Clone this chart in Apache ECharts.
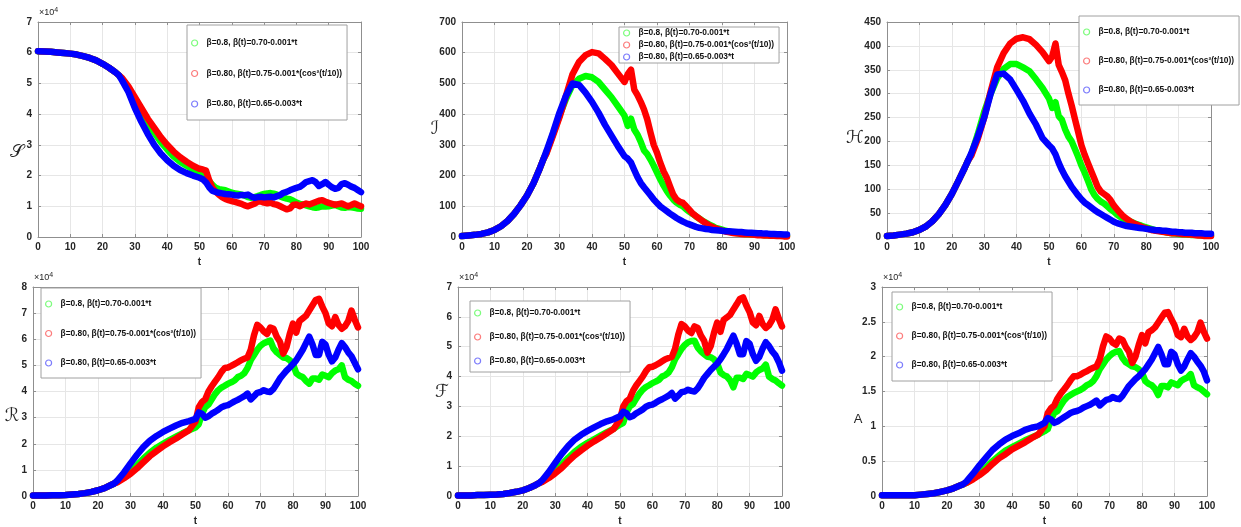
<!DOCTYPE html>
<html>
<head>
<meta charset="utf-8">
<script src="https://cdn.jsdelivr.net/npm/echarts@6/dist/echarts.min.js"></script>
<style>
html, body { margin: 0; padding: 0; background: #fff; }
#main { width: 1241px; height: 527px; }
</style>
</head>
<body>
<div id="main"></div>
<script>
// time points (dense after t=50 where the paths get noisy)
var T = [0, 2, 4, 6, 8, 10, 12, 14, 16, 18, 20, 22, 24, 25,
    26, 28, 30, 32, 34, 36, 38, 40, 42, 44, 46, 48,
    50, 51, 52, 53, 54, 55, 56, 57, 58, 59,
    60, 61, 62, 63, 64, 65, 66, 67, 68, 69,
    70, 71, 72, 73, 74, 75, 76, 77, 78, 79,
    80, 81, 82, 83, 84, 85, 86, 87, 88, 89,
    90, 91, 92, 93, 94, 95, 96, 97, 98, 99, 100];

var NAMES = ['β=0.8, β(t)=0.70-0.001*t', 'β=0.80, β(t)=0.75-0.001*(cos²(t/10))', 'β=0.80, β(t)=0.65-0.003*t'];
var COLORS = ['#00ff00', '#ff0000', '#0000ff'];
var ICON_COLORS = ['#7dfc7d', '#fc7d7d', '#7d7dfc'];

// S (x10^4)
var S_green = [6.05, 6.04, 6.03, 6.01, 5.99, 5.97, 5.94, 5.89, 5.83, 5.75, 5.64, 5.51, 5.36, 5.27,
    5.15, 4.85, 4.45, 4.05, 3.7, 3.4, 3.1, 2.85, 2.62, 2.45, 2.32, 2.2,
    2.12, 2.02, 1.92, 1.82, 1.7, 1.6, 1.56, 1.54, 1.52, 1.48,
    1.44, 1.42, 1.4, 1.38, 1.35, 1.3, 1.28, 1.3, 1.33, 1.37,
    1.4, 1.42, 1.43, 1.41, 1.38, 1.32, 1.28, 1.25, 1.23, 1.18,
    1.12, 1.08, 1.06, 1.03, 1.0, 0.97, 0.95, 0.97, 1.0, 0.99,
    1.0, 1.02, 1.05, 1.0, 0.96, 0.95, 0.98, 0.97, 0.95, 0.93, 0.92];
var S_red = [6.05, 6.04, 6.03, 6.01, 5.99, 5.97, 5.94, 5.89, 5.83, 5.75, 5.64, 5.51, 5.36, 5.27,
    5.18, 4.9, 4.55, 4.2, 3.85, 3.55, 3.25, 3.0, 2.78, 2.6, 2.45, 2.32,
    2.22, 2.2, 2.16, 1.85, 1.6, 1.48, 1.38, 1.3, 1.24, 1.2,
    1.17, 1.14, 1.11, 1.08, 1.03, 1.0, 1.04, 1.08, 1.15, 1.16,
    1.12, 1.1, 1.12, 1.07, 1.05, 1.0, 0.95, 0.9, 0.93, 1.04,
    1.06, 1.0, 1.05, 1.09, 1.06, 1.1, 1.14, 1.18, 1.2, 1.15,
    1.11, 1.08, 1.05, 1.07, 1.09, 1.04, 1.0, 1.04, 1.09, 1.04, 1.0];
var S_blue = [6.05, 6.04, 6.03, 6.01, 5.99, 5.97, 5.94, 5.89, 5.83, 5.75, 5.64, 5.51, 5.36, 5.27,
    5.1, 4.72, 4.2, 3.75, 3.35, 3.0, 2.72, 2.5, 2.32, 2.18, 2.08, 2.0,
    1.93, 1.88, 1.78, 1.62, 1.5, 1.47, 1.44, 1.42, 1.4, 1.39,
    1.38, 1.36, 1.35, 1.37, 1.36, 1.38, 1.32, 1.28, 1.3, 1.31,
    1.29, 1.3, 1.31, 1.29, 1.33, 1.37, 1.44, 1.47, 1.52, 1.56,
    1.6, 1.63, 1.7, 1.79, 1.82, 1.85, 1.78, 1.66, 1.72, 1.79,
    1.7, 1.62, 1.57, 1.6, 1.72, 1.75, 1.7, 1.64, 1.6, 1.53, 1.46];

// I
var I_green = [3, 5, 7, 10, 15, 23, 35, 52, 75, 103, 135, 175, 225, 252,
    275, 335, 395, 450, 495, 515, 524, 520, 505, 480, 455, 425,
    395, 362, 385, 350, 333, 310, 282, 270, 252, 232,
    210, 188, 168, 150, 135, 122, 112, 105, 100, 90,
    82, 75, 67, 60, 53, 47, 41, 36, 30, 27,
    24, 21, 18, 16, 14, 12, 11, 10, 9, 8,
    8, 7, 7, 6, 6, 5, 5, 5, 4, 4, 4];
var I_red = [3, 5, 7, 10, 15, 23, 35, 52, 75, 103, 135, 175, 225, 252,
    272, 330, 390, 460, 530, 570, 592, 602, 598, 580, 560, 532,
    505, 530, 545, 480, 462, 440, 415, 383, 340, 300,
    274, 242, 214, 193, 165, 138, 122, 115, 111, 100,
    88, 76, 68, 60, 52, 45, 38, 33, 28, 24,
    21, 18, 16, 14, 12, 11, 10, 9, 9, 8,
    7, 6, 6, 5, 5, 4, 4, 3, 3, 2, 2];
var I_blue = [3, 5, 7, 10, 15, 23, 35, 52, 75, 103, 135, 175, 225, 252,
    280, 340, 405, 460, 500, 495, 470, 440, 405, 365, 330, 295,
    263, 255, 242, 218, 195, 176, 162, 149, 136, 122,
    111, 100, 92, 84, 76, 69, 62, 56, 50, 45,
    41, 37, 33, 30, 28, 26, 25, 23, 22, 21,
    20, 19, 19, 18, 17, 16, 16, 15, 14, 14,
    13, 12, 12, 11, 11, 10, 10, 9, 9, 8, 8];

// H
var H_green = [2, 3, 5, 7, 10, 15, 22, 33, 48, 67, 90, 117, 145, 160,
    172, 215, 262, 300, 332, 352, 362, 362, 355, 347, 330, 312,
    290, 270, 282, 253, 245, 225, 210, 200, 184, 168,
    150, 135, 118, 100, 88, 80, 74, 70, 64, 58,
    53, 47, 42, 38, 35, 33, 30, 27, 25, 22,
    20, 18, 16, 14, 13, 12, 10, 9, 8, 7,
    6, 6, 5, 5, 4, 4, 4, 3, 3, 3, 3];
var H_red = [2, 3, 5, 7, 10, 15, 22, 33, 48, 67, 90, 117, 145, 160,
    170, 205, 250, 305, 355, 385, 405, 415, 418, 414, 402, 387,
    368, 378, 405, 360, 345, 328, 300, 275, 247, 220,
    192, 172, 155, 138, 122, 105, 95, 90, 85, 77,
    66, 58, 50, 43, 38, 33, 29, 26, 23, 20,
    18, 16, 14, 13, 12, 11, 10, 9, 8, 8,
    7, 6, 6, 5, 5, 4, 3, 3, 2, 2, 2];
var H_blue = [2, 3, 5, 7, 10, 15, 22, 33, 48, 67, 90, 117, 145, 160,
    175, 210, 250, 300, 340, 342, 330, 308, 285, 258, 235, 207,
    192, 185, 173, 155, 140, 127, 116, 105, 96, 87,
    79, 72, 67, 62, 57, 52, 48, 44, 40, 36,
    32, 29, 27, 25, 23, 22, 21, 20, 19, 18,
    17, 16, 15, 14, 14, 13, 13, 12, 11, 11,
    10, 10, 9, 9, 9, 8, 8, 8, 7, 7, 7];

// R (x10^4)
var R_green = [0.02, 0.02, 0.02, 0.03, 0.03, 0.04, 0.06, 0.08, 0.11, 0.16, 0.22, 0.3, 0.42, 0.48,
    0.55, 0.72, 0.94, 1.18, 1.44, 1.66, 1.85, 2.0, 2.14, 2.27, 2.4, 2.52,
    2.62, 2.75, 3.15, 3.4, 3.5, 3.7, 3.9, 4.05, 4.15, 4.22,
    4.3, 4.35, 4.42, 4.55, 4.6, 4.7, 4.9, 5.2, 5.4, 5.6,
    5.75, 5.85, 5.9, 5.95, 5.65, 5.5, 5.4, 5.3, 5.28, 5.2,
    5.05, 4.7, 4.6, 4.55, 4.4, 4.3, 4.5, 4.5, 4.45, 4.65,
    4.6, 4.55, 4.7, 4.8, 4.85, 5.0, 4.55, 4.45, 4.4, 4.3, 4.22];
var R_red = [0.02, 0.02, 0.02, 0.03, 0.03, 0.04, 0.06, 0.08, 0.11, 0.16, 0.22, 0.3, 0.42, 0.48,
    0.53, 0.68, 0.85, 1.06, 1.3, 1.53, 1.72, 1.9, 2.06, 2.2, 2.36, 2.52,
    2.85, 3.4, 3.6, 3.7, 4.0, 4.2, 4.38, 4.55, 4.75, 4.9,
    4.92, 4.98, 5.05, 5.12, 5.2, 5.25, 5.3, 5.6, 6.15, 6.55,
    6.45, 6.3, 6.2, 6.45, 6.4, 6.1, 5.9, 5.45, 5.7, 6.2,
    6.6, 6.25, 6.7, 6.8, 6.9, 7.1, 7.3, 7.5, 7.55, 7.25,
    7.0, 6.6, 6.5, 6.85, 6.55, 6.4, 6.5, 6.7, 7.1, 6.75, 6.45];
var R_blue = [0.02, 0.02, 0.02, 0.03, 0.03, 0.04, 0.06, 0.08, 0.11, 0.16, 0.22, 0.3, 0.42, 0.48,
    0.6, 0.9, 1.25, 1.58, 1.88, 2.12, 2.3, 2.45, 2.58, 2.7, 2.8, 2.87,
    2.95, 3.2, 3.15, 3.0, 3.05, 3.15, 3.22, 3.3, 3.4, 3.45,
    3.48, 3.55, 3.62, 3.68, 3.75, 3.82, 3.92, 3.7, 3.82, 3.95,
    3.98, 4.05, 4.0, 3.98, 4.1, 4.3, 4.5, 4.65, 4.8, 4.92,
    5.05, 5.2, 5.4, 5.6, 5.85, 6.1, 5.8, 5.4, 5.4, 5.9,
    5.8, 5.4, 5.15, 5.3, 5.6, 5.85, 5.7, 5.5, 5.35, 5.1, 4.85];

// F (x10^4)
var F_green = [0.02, 0.02, 0.02, 0.03, 0.03, 0.04, 0.05, 0.07, 0.1, 0.14, 0.19, 0.27, 0.37, 0.43,
    0.49, 0.64, 0.84, 1.05, 1.28, 1.48, 1.65, 1.78, 1.9, 2.02, 2.14, 2.25,
    2.39, 2.45, 2.8, 3.0, 3.08, 3.26, 3.43, 3.56, 3.65, 3.71,
    3.78, 3.83, 3.89, 4.0, 4.05, 4.14, 4.31, 4.58, 4.75, 4.93,
    5.06, 5.15, 5.19, 5.2, 4.97, 4.84, 4.75, 4.66, 4.65, 4.58,
    4.44, 4.14, 4.05, 4.0, 3.87, 3.64, 3.96, 3.96, 3.92, 4.09,
    4.05, 4.0, 4.14, 4.22, 4.27, 4.4, 4.0, 3.92, 3.87, 3.78, 3.7];
var F_red = [0.02, 0.02, 0.02, 0.03, 0.03, 0.04, 0.05, 0.07, 0.1, 0.14, 0.19, 0.27, 0.37, 0.43,
    0.47, 0.6, 0.76, 0.94, 1.16, 1.36, 1.53, 1.69, 1.83, 1.96, 2.1, 2.24,
    2.56, 3.0, 3.17, 3.26, 3.52, 3.7, 3.85, 4.0, 4.18, 4.31,
    4.33, 4.38, 4.44, 4.51, 4.58, 4.62, 4.66, 4.93, 5.41, 5.76,
    5.68, 5.54, 5.46, 5.68, 5.63, 5.37, 5.19, 4.8, 5.02, 5.46,
    5.81, 5.5, 5.9, 5.98, 6.07, 6.25, 6.42, 6.6, 6.65, 6.38,
    6.16, 5.81, 5.72, 6.03, 5.76, 5.63, 5.72, 5.9, 6.25, 5.94, 5.68];
var F_blue = [0.02, 0.02, 0.02, 0.03, 0.03, 0.04, 0.05, 0.07, 0.1, 0.14, 0.19, 0.27, 0.37, 0.43,
    0.53, 0.8, 1.11, 1.41, 1.67, 1.89, 2.05, 2.18, 2.3, 2.41, 2.5, 2.57,
    2.67, 2.82, 2.77, 2.64, 2.68, 2.77, 2.83, 2.9, 2.99, 3.04,
    3.06, 3.12, 3.19, 3.24, 3.3, 3.36, 3.45, 3.26, 3.36, 3.48,
    3.5, 3.56, 3.52, 3.5, 3.61, 3.78, 3.96, 4.09, 4.22, 4.33,
    4.44, 4.58, 4.75, 4.93, 5.15, 5.37, 5.1, 4.75, 4.75, 5.19,
    5.1, 4.75, 4.53, 4.66, 4.93, 5.15, 5.02, 4.84, 4.71, 4.49, 4.2];

// A (x10^4)
var A_green = [0.01, 0.01, 0.01, 0.01, 0.01, 0.01, 0.02, 0.03, 0.04, 0.06, 0.08, 0.11, 0.15, 0.17,
    0.19, 0.25, 0.33, 0.41, 0.5, 0.58, 0.65, 0.7, 0.75, 0.8, 0.84, 0.88,
    0.93, 0.96, 1.1, 1.19, 1.22, 1.3, 1.37, 1.42, 1.45, 1.48,
    1.5, 1.52, 1.55, 1.59, 1.61, 1.65, 1.72, 1.82, 1.89, 1.96,
    2.01, 2.05, 2.07, 2.08, 1.98, 1.92, 1.89, 1.86, 1.85, 1.82,
    1.77, 1.65, 1.61, 1.59, 1.54, 1.45, 1.58, 1.58, 1.56, 1.63,
    1.61, 1.59, 1.65, 1.68, 1.7, 1.75, 1.59, 1.56, 1.54, 1.5, 1.46];
var A_red = [0.01, 0.01, 0.01, 0.01, 0.01, 0.01, 0.02, 0.03, 0.04, 0.06, 0.08, 0.11, 0.15, 0.17,
    0.19, 0.24, 0.3, 0.37, 0.46, 0.54, 0.6, 0.67, 0.72, 0.77, 0.83, 0.88,
    1.0, 1.19, 1.26, 1.3, 1.4, 1.47, 1.53, 1.59, 1.66, 1.72,
    1.72, 1.74, 1.77, 1.79, 1.82, 1.84, 1.86, 1.96, 2.15, 2.29,
    2.26, 2.2, 2.17, 2.26, 2.24, 2.14, 2.07, 1.91, 2.0, 2.17,
    2.31, 2.19, 2.35, 2.38, 2.42, 2.49, 2.56, 2.63, 2.64, 2.54,
    2.45, 2.31, 2.28, 2.4, 2.29, 2.24, 2.28, 2.35, 2.49, 2.36, 2.26];
var A_blue = [0.01, 0.01, 0.01, 0.01, 0.01, 0.01, 0.02, 0.03, 0.04, 0.06, 0.08, 0.11, 0.15, 0.17,
    0.21, 0.32, 0.44, 0.55, 0.66, 0.74, 0.81, 0.86, 0.9, 0.95, 0.98, 1.0,
    1.05, 1.12, 1.1, 1.05, 1.07, 1.1, 1.13, 1.16, 1.19, 1.21,
    1.22, 1.24, 1.27, 1.29, 1.31, 1.34, 1.37, 1.3, 1.34, 1.38,
    1.39, 1.42, 1.4, 1.39, 1.44, 1.51, 1.58, 1.63, 1.68, 1.72,
    1.77, 1.82, 1.89, 1.96, 2.05, 2.14, 2.03, 1.89, 1.89, 2.07,
    2.03, 1.89, 1.8, 1.86, 1.96, 2.05, 2.0, 1.93, 1.87, 1.79, 1.66];

var panels = [
    { grid: { left: 38, top: 22, width: 323, height: 215 }, max: 7, step: 1, label: '𝒮', lab: [17, 152], exp: true,
      data: [S_green, S_red, S_blue], leg: { left: 187, top: 25, gap: 20.5, pad: [13, 5, 11, 4] } },
    { grid: { left: 462, top: 22, width: 325, height: 215 }, max: 700, step: 100, label: 'ℐ', lab: [435, 129], exp: false,
      data: [I_green, I_red, I_blue], leg: { left: 619, top: 27, gap: 2, pad: [1, 5, 1, 4] } },
    { grid: { left: 887, top: 22, width: 324, height: 215 }, max: 450, step: 50, label: 'ℋ', lab: [855, 138], exp: false,
      data: [H_green, H_red, H_blue], leg: { left: 1079, top: 16, gap: 19, pad: [11, 5, 10, 4] } },
    { grid: { left: 33, top: 287, width: 325, height: 215 }, max: 8, step: 1, label: 'ℛ', lab: [12, 416], exp: true,
      data: [R_green, R_red, R_blue], leg: { left: 41, top: 288, gap: 19.5, pad: [11, 5, 10, 4] } },
    { grid: { left: 458, top: 287, width: 324, height: 215 }, max: 7, step: 1, label: 'ℱ', lab: [442, 392], exp: true,
      data: [F_green, F_red, F_blue], leg: { left: 470, top: 301, gap: 14, pad: [7, 5, 6, 4] } },
    { grid: { left: 882, top: 287, width: 325, height: 215 }, max: 3, step: 0.5, label: 'A', lab: [858, 419], exp: true,
      data: [A_green, A_red, A_blue], leg: { left: 892, top: 292, gap: 19, pad: [10, 5, 11, 4] } }
];

var FONT = 'Liberation Sans, Arial, sans-serif';
var LINE = '#8f8f8f';

var grids = [], xAxes = [], yAxes = [], series = [], legends = [], graphics = [];

var legendData = NAMES.map(function (n, k) {
    return { name: n, icon: 'circle', itemStyle: { color: '#ffffff', borderColor: ICON_COLORS[k], borderWidth: 1.2 } };
});

panels.forEach(function (p, i) {
    grids.push(p.grid);
    var tick = { show: true, inside: true, length: 3, lineStyle: { color: LINE } };
    xAxes.push({
        gridIndex: i, type: 'value', min: 0, max: 100, interval: 10, position: 'bottom',
        name: 't', nameLocation: 'middle', nameGap: 20,
        nameTextStyle: { fontFamily: FONT, fontWeight: 'bold', fontSize: 10, color: '#262626' },
        axisLine: { show: true, onZero: false, lineStyle: { color: LINE } },
        axisTick: tick,
        axisLabel: { fontFamily: FONT, fontWeight: 'bold', fontSize: 10, color: '#262626', margin: 5 },
        splitLine: { show: true, lineStyle: { color: '#e6e6e6', width: 1 } }
    });
    xAxes.push({
        gridIndex: i, type: 'value', min: 0, max: 100, interval: 10, position: 'top',
        axisLine: { show: true, onZero: false, lineStyle: { color: LINE } },
        axisTick: tick, axisLabel: { show: false }, splitLine: { show: false }
    });
    yAxes.push({
        gridIndex: i, type: 'value', min: 0, max: p.max, interval: p.step, position: 'left',
        axisLine: { show: true, onZero: false, lineStyle: { color: LINE } },
        axisTick: tick,
        axisLabel: { fontFamily: FONT, fontWeight: 'bold', fontSize: 10, color: '#262626', margin: 6 },
        splitLine: { show: true, lineStyle: { color: '#e6e6e6', width: 1 } }
    });
    yAxes.push({
        gridIndex: i, type: 'value', min: 0, max: p.max, interval: p.step, position: 'right',
        axisLine: { show: true, onZero: false, lineStyle: { color: LINE } },
        axisTick: tick, axisLabel: { show: false }, splitLine: { show: false }
    });

    p.data.forEach(function (vals, k) {
        series.push({
            type: 'line', name: NAMES[k], xAxisIndex: 2 * i, yAxisIndex: 2 * i,
            data: T.map(function (t, j) { return [t, vals[j]]; }),
            showSymbol: false, symbol: 'none', silent: true, animation: false,
            color: COLORS[k],
            lineStyle: { color: COLORS[k], width: 6.5, cap: 'round', join: 'round' }
        });
    });

    // icon box wider than the circle so the text sits ~10px right of the marker
    legends.push({
        data: legendData, orient: 'vertical', left: p.leg.left, top: p.leg.top,
        padding: p.leg.pad, itemGap: p.leg.gap, itemWidth: 14, itemHeight: 6,
        icon: 'circle', selectedMode: false,
        textStyle: { fontFamily: FONT, fontWeight: 'bold', fontSize: 8.4, lineHeight: 10, color: '#111' },
        backgroundColor: '#fff', borderColor: '#a0a0a0', borderWidth: 1, borderRadius: 0
    });

    graphics.push({
        type: 'text', x: p.lab[0], y: p.lab[1], z: 10,
        style: {
            text: p.label, align: 'center', verticalAlign: 'middle', fill: '#262626',
            fontSize: p.label === 'A' ? 13 : 18,
            fontFamily: p.label === 'A' ? FONT : 'DejaVu Serif, DejaVu Sans, serif'
        }
    });
    if (p.exp) {
        graphics.push({
            type: 'text', x: p.grid.left + 1, y: p.grid.top - 3, z: 10,
            style: {
                text: '×10{s|4}', verticalAlign: 'bottom', fill: '#262626',
                fontSize: 9, fontFamily: FONT,
                rich: { s: { fontSize: 7, verticalAlign: 'top', padding: [0, 0, 5, 0], fontFamily: FONT, fill: '#262626' } }
            }
        });
    }
});

var chart = echarts.init(document.getElementById('main'), null, { renderer: 'canvas' });
chart.setOption({
    backgroundColor: '#fff',
    animation: false,
    grid: grids,
    xAxis: xAxes,
    yAxis: yAxes,
    legend: legends,
    series: series,
    graphic: graphics
});
</script>
</body>
</html>
